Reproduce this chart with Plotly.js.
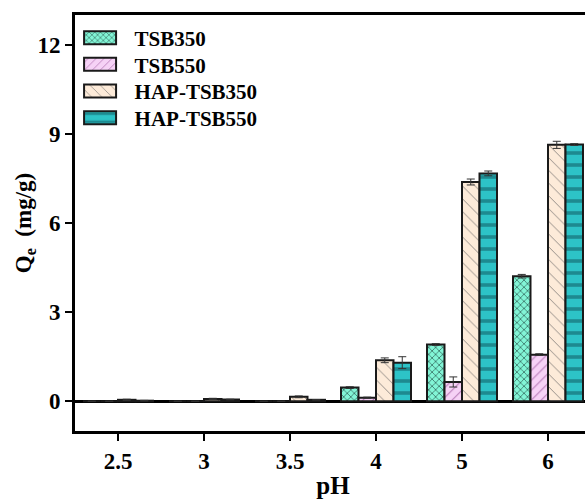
<!DOCTYPE html>
<html>
<head>
<meta charset="utf-8">
<script src="https://cdn.plot.ly/plotly-3.0.1.min.js"></script>
<style>
html,body{margin:0;padding:0;overflow:hidden;background:#fff;}
#chart{width:610px;height:499px;}
</style>
</head>
<body>
<div id="chart"></div>
<script>
var phLabels = ['2.5', '3', '3.5', '4', '5', '6'];
var seriesNames = ['TSB350', 'TSB550', 'HAP-TSB350', 'HAP-TSB550'];
var tsb350 = [0, 0, 0, 0.46, 1.91, 4.21];
var tsb550 = [0, 0, 0, 0.12, 0.65, 1.57];
var hapTsb350 = [0.05, 0.08, 0.15, 1.38, 7.38, 8.63];
var hapTsb550 = [0.02, 0.06, 0.05, 1.30, 7.67, 8.64];
var tsb350Err = [0, 0, 0, 0.03, 0.03, 0.06];
var tsb550Err = [0, 0, 0, 0.02, 0.17, 0.03];
var hapTsb350Err = [0.02, 0.02, 0.03, 0.08, 0.10, 0.12];
var hapTsb550Err = [0.01, 0.01, 0.01, 0.20, 0.08, 0.03];

var FONT = 'Liberation Serif, Times New Roman, serif';

var styles = [
  {color: '#82F5D6', pattern: {shape: 'x', bgcolor: '#82F5D6', fgcolor: '#2a5a50', size: 5, solidity: 0.25}},
  {color: '#F6D2F6', pattern: {shape: '/', bgcolor: '#F6D2F6', fgcolor: '#b77ab7', size: 7, solidity: 0.15}},
  {color: '#FDEBD9', pattern: {shape: '\\', bgcolor: '#FDEBD9', fgcolor: '#8a8580', size: 9, solidity: 0.1}},
  {color: '#2DC3C7', pattern: {shape: '-', bgcolor: '#2DC3C7', fgcolor: '#1d8a90', size: 12, solidity: 0.3}}
];
var values = [tsb350, tsb550, hapTsb350, hapTsb550];
var errs = [tsb350Err, tsb550Err, hapTsb350Err, hapTsb550Err];

var traces = values.map(function(v, i) {
  return {
    type: 'bar',
    name: seriesNames[i],
    x: phLabels,
    y: v,
    marker: {
      color: styles[i].color,
      pattern: styles[i].pattern,
      line: {color: '#1a1a1a', width: 2}
    },
    error_y: {type: 'data', array: errs[i], visible: true, color: '#333', thickness: 1, width: 4}
  };
});

var layout = {
  width: 610,
  height: 499,
  margin: {l: 75, r: 19, t: 15, b: 68},
  paper_bgcolor: '#ffffff',
  plot_bgcolor: '#ffffff',
  barmode: 'group',
  bargap: 0.186,
  bargroupgap: 0,
  showlegend: true,
  legend: {
    x: 0.005, y: 0.994, xanchor: 'left', yanchor: 'top',
    bgcolor: 'rgba(0,0,0,0)',
    font: {family: FONT, size: 21, color: '#000', weight: 'bold'},
    itemwidth: 47,
    tracegroupgap: 0
  },
  xaxis: {
    type: 'category',
    range: [-0.5, 5.5],
    showline: true, linecolor: '#000', linewidth: 3, mirror: true,
    ticks: 'outside', ticklen: 7, tickwidth: 2, tickcolor: '#000',
    tickfont: {family: FONT, size: 23, color: '#000', weight: 'bold'},
    showgrid: false, zeroline: false,
    title: {text: 'pH', font: {family: FONT, size: 25, color: '#000', weight: 'bold'}, standoff: 4}
  },
  yaxis: {
    range: [-1, 13],
    tickvals: [0, 3, 6, 9, 12],
    showline: true, linecolor: '#000', linewidth: 3, mirror: true,
    ticks: 'outside', ticklen: 7, tickwidth: 2, tickcolor: '#000',
    tickfont: {family: FONT, size: 23, color: '#000', weight: 'bold'},
    showgrid: false,
    zeroline: true, zerolinecolor: '#000', zerolinewidth: 2.5,
    title: {text: 'Q<sub>e</sub>  (mg/g)', font: {family: FONT, size: 23, color: '#000', weight: 'bold'}, standoff: 0}
  }
};

Plotly.newPlot('chart', traces, layout, {displayModeBar: false, staticPlot: true}).then(function(gd) {
  // widen legend swatches and tighten row spacing to match the reference
  var items = gd.querySelectorAll('.legend .traces');
  var rowStep = 26.7;
  var y0 = null;
  items.forEach(function(item, i) {
    var tr = item.getAttribute('transform') || '';
    var m = /translate\(\s*([-\d.]+)[ ,]+([-\d.]+)\s*\)/.exec(tr);
    if (m) {
      var tx = parseFloat(m[1]), ty = parseFloat(m[2]);
      if (y0 === null) y0 = ty;
      item.setAttribute('transform', 'translate(' + tx + ',' + (y0 + i * rowStep) + ')');
    }
    item.querySelectorAll('.legendpoints path').forEach(function(p) {
      p.setAttribute('d', 'M10,6.5H-22V-6.5H10Z');
    });
  });
});
</script>
</body>
</html>
